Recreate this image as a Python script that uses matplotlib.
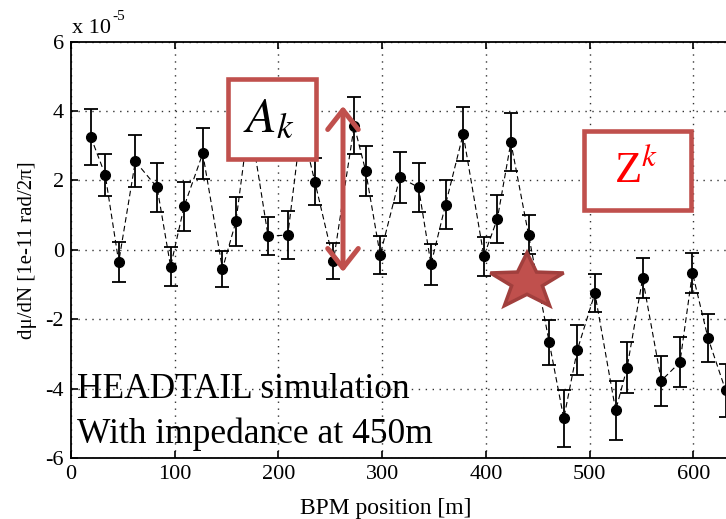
import numpy as np
import matplotlib
matplotlib.use("Agg")
from matplotlib import pyplot as plt
from matplotlib.patches import Rectangle, Polygon

# Posições dos BPMs [m] e valores medidos (em unidades de 1e-5)
bpm_pos = [19, 33, 46, 62, 83, 96, 109, 127, 146, 159, 172, 190, 209, 222, 235,
           253, 273, 284, 298, 317, 335, 347, 361, 378, 398, 411, 424, 441,
           461, 475, 488, 505, 525, 536, 551, 569, 587, 599, 614, 631]
dmu_dn = [3.26, 2.16, -0.35, 2.55, 1.80, -0.48, 1.25, 2.78, -0.55, 0.82, 3.8,
          0.39, 0.43, 3.6, 1.97, -0.32, 3.58, 2.28, -0.15, 2.09, 1.80, -0.42,
          1.30, 3.34, -0.18, 0.90, 3.10, 0.44, -2.67, -4.86, -2.89, -1.25,
          -4.63, -3.40, -0.82, -3.77, -3.24, -0.66, -2.54, -4.05]
erro = [0.80, 0.60, 0.58, 0.75, 0.70, 0.56, 0.72, 0.74, 0.53, 0.70, 0.80,
        0.55, 0.70, 0.75, 0.67, 0.53, 0.83, 0.72, 0.56, 0.74, 0.70, 0.58,
        0.70, 0.78, 0.56, 0.69, 0.84, 0.56, 0.66, 0.82, 0.72, 0.54, 0.84,
        0.74, 0.58, 0.72, 0.72, 0.58, 0.70, 0.77]

x_ticks = [0, 100, 200, 300, 400, 500, 600]
y_ticks = [-6, -4, -2, 0, 2, 4, 6]

vermelho = '#C0504D'
W, H = 726, 519

plt.rcParams['font.family'] = ['Liberation Serif', 'DejaVu Serif']
plt.rcParams['mathtext.fontset'] = 'stix'
plt.rcParams['axes.unicode_minus'] = False


def px(x, y):
    # converte pixel da imagem (origem no topo) para fração da figura
    return x / W, 1 - y / H


fig = plt.figure(figsize=(7.26, 5.19), dpi=100)
ax = fig.add_axes([71 / W, (H - 458) / H, 726.2 / W, 416.3 / H])

ax.errorbar(bpm_pos, dmu_dn, yerr=erro, fmt='o', color='black', ms=7,
            ecolor='black', elinewidth=1.3, capsize=5.2, capthick=1.3,
            ls=(0, (5, 3)), lw=0.8)

ax.set_xlim(0, 700)
ax.set_ylim(-6, 6)
ax.set_xticks(x_ticks)
ax.set_yticks(y_ticks)
ax.grid(True, linestyle=(0, (1, 4)), color='#333333', linewidth=1)
ax.tick_params(direction='in', top=True, right=True, length=5, width=1.2,
               labelsize=16, pad=5)
for s in ax.spines.values():
    s.set_linewidth(1.3)

ax.set_xlabel('BPM position [m]', fontsize=17)
ax.xaxis.set_label_coords((386 - 71) / 726.2, -0.095)
ax.set_ylabel('dμ/dN [1e-11 rad/2π]', fontsize=15, labelpad=6)

# multiplicador do eixo y, estilo MATLAB
fig.text(*px(72, 33), 'x 10', fontsize=16, ha='left', va='baseline')
fig.text(*px(112, 20), '-5', fontsize=11, ha='left', va='baseline')

# texto da simulação
fig.text(*px(77, 398), 'HEADTAIL simulation', fontsize=25.5, ha='left', va='baseline')
fig.text(*px(77, 443), 'With impedance at 450m', fontsize=25.5, ha='left', va='baseline')

# caixa A_k
x0, y0 = px(228, 159)
x1, y1 = px(316, 79)
fig.add_artist(Rectangle((x0, y0), x1 - x0, y1 - y0, transform=fig.transFigure,
                         facecolor='white', edgecolor=vermelho, lw=3.3, zorder=5))
fig.text(*px(269, 119), r'$A_k$', fontsize=36, ha='center', va='center', zorder=6)

# caixa Z^k
x0, y0 = px(584, 210)
x1, y1 = px(691, 131)
fig.add_artist(Rectangle((x0, y0), x1 - x0, y1 - y0, transform=fig.transFigure,
                         facecolor='white', edgecolor=vermelho, lw=3.3, zorder=5))
fig.text(*px(636, 172), r'Z$^{k}$', fontsize=32, color='red',
         ha='center', va='center', zorder=6)

# seta dupla
ax.annotate('', xy=px(343, 106), xytext=px(343, 272), xycoords='figure fraction',
            textcoords='figure fraction',
            arrowprops=dict(arrowstyle='<->,head_length=0.7,head_width=0.55',
                            mutation_scale=20, color=vermelho, lw=3.6,
                            shrinkA=0, shrinkB=0), zorder=7)

# estrela
cx, cy, rx, ry, r_in = 527, 282, 38.5, 29.3, 0.42
vert = []
for k in range(10):
    ang = np.pi / 2 + k * np.pi / 5
    r = 1.0 if k % 2 == 0 else r_in
    vert.append(px(cx + r * rx * np.cos(ang), cy - r * ry * np.sin(ang)))
fig.add_artist(Polygon(vert, closed=True, transform=fig.transFigure,
                       facecolor=vermelho, edgecolor='#A13F3D', lw=2.5, zorder=5))

plt.savefig('out.png', dpi=100)
